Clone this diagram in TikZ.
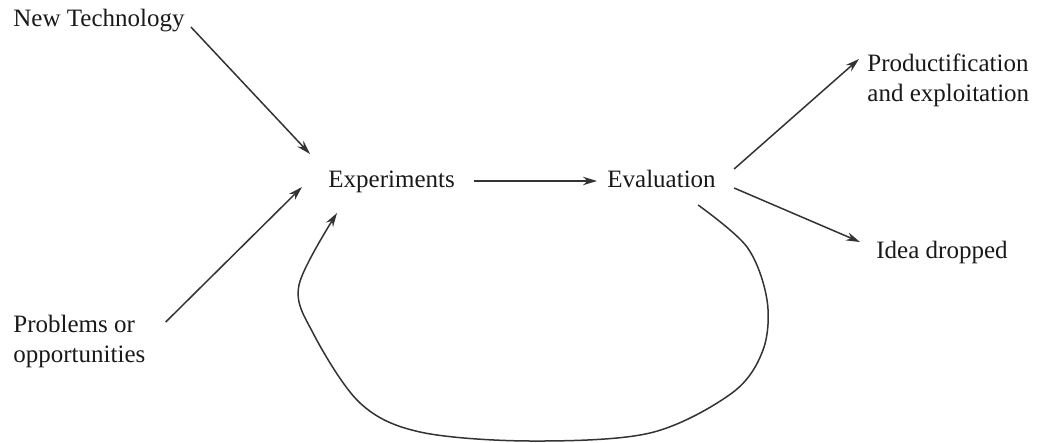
\documentclass[tikz,border=0pt]{standalone}
\usepackage{fontspec}
\setmainfont{Liberation Serif}
\usetikzlibrary{arrows.meta}
\begin{document}
\begin{tikzpicture}[x=0.5pt,y=-0.5pt,
  lbl/.style={inner sep=0pt,anchor=base west,align=left,font=\fontsize{12.5}{15}\selectfont,text=black!90},
  arr/.style={draw=black!80,line width=0.75pt,-{Stealth[length=7pt,width=4.2pt]}}]
\useasboundingbox (0,0) rectangle (1037,443);
\node[lbl] (nt) at (13,27) {New Technology};
\node[lbl] (pb) at (13,362) {Problems or\\opportunities};
\node[lbl] (ex) at (328,188) {Experiments};
\node[lbl] (ev) at (607,188) {Evaluation};
\node[lbl] (pr) at (867,102) {Productification\\and exploitation};
\node[lbl] (id) at (876,258) {Idea dropped};
\draw[arr] ([shift={(6,0)}]nt.base east) -- ([shift={(-18,-34)}]ex.base west);
\draw[arr] ([shift={(20,-40)}]pb.base east) -- ([shift={(-26,-1)}]ex.base west);
\draw[arr] ([shift={(19,-7)}]ex.base east) -- ([shift={(-10,-7)}]ev.base west);
\draw[arr] ([shift={(18,-19)}]ev.base east) -- ([shift={(-8,-43)}]pr.base west);
\draw[arr] ([shift={(18,0)}]ev.base east) -- ([shift={(-16,-16)}]id.base west);
\draw[arr] plot[smooth,tension=0.55] coordinates {([shift={(-18,17)}]ev.base east) (747,247) (767,300) (763,350) (732,393) (650,433) (530,441) (420,432) (360,403) (313,333) (299,285) ([shift={(9,25)}]ex.base west)};
\end{tikzpicture}
\end{document}
